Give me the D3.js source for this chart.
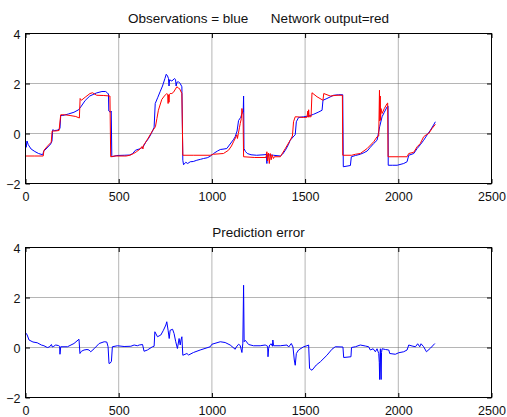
<!DOCTYPE html>
<html><head><meta charset="utf-8">
<script src="https://cdn.jsdelivr.net/npm/d3@7"></script>
<style>
body{margin:0;background:#fff}
svg{display:block}
text{font-family:"Liberation Sans",Arial,Helvetica,sans-serif;fill:#111}
</style>
</head><body>
<svg id="chart" width="507" height="417"></svg>
<script>
// ---- tick labels ----
const xTicks = [0, 500, 1000, 1500, 2000, 2500];
const yTicks = [-2, 0, 2, 4];
const titleTop = "Observations = blue      Network output=red";
const titleBottom = "Prediction error";

// ---- observations (blue), [time, value] ----
const observations = [[0,-0.3],[4,-0.55],[8,-0.3],[15,-0.45],[30,-0.62],[50,-0.72],[70,-0.8],[92,-0.85],[98,-0.7],[110,-0.62],[125,-0.5],[135,-0.42],[142,-0.3],[146,0.15],[155,0.12],[170,0.13],[185,0.2],[189,0.72],[200,0.72],[230,0.78],[260,0.85],[285,0.95],[300,1.1],[320,1.32],[345,1.5],[380,1.62],[410,1.68],[430,1.68],[440,1.62],[445,1.58],[447,0.9],[455,0.85],[460,0.9],[463,-0.93],[490,-0.88],[530,-0.87],[560,-0.86],[575,-0.8],[590,-0.67],[610,-0.62],[630,-0.55],[645,-0.35],[660,-0.2],[675,0.0],[686,0.18],[690,0.25],[696,1.2],[710,1.45],[722,1.67],[735,1.9],[748,2.2],[755,2.37],[762,2.3],[767,2.2],[770,1.9],[773,2.15],[785,2.1],[800,2.2],[805,2.15],[808,1.9],[812,2.05],[821,2.07],[830,2.0],[839,1.87],[844,-1.07],[848,-1.25],[860,-1.15],[870,-1.2],[884,-1.13],[900,-1.12],[919,-1.07],[940,-1.03],[955,-1.0],[975,-0.97],[991,-0.91],[1009,-0.8],[1030,-0.7],[1045,-0.64],[1065,-0.62],[1080,-0.6],[1098,-0.42],[1115,-0.25],[1125,-0.13],[1135,0.1],[1143,0.52],[1155,0.65],[1161,0.8],[1168,0.85],[1170,1.5],[1171,0.9],[1172,-0.6],[1180,-0.72],[1190,-0.8],[1210,-0.85],[1240,-0.87],[1280,-0.85],[1293,-0.83],[1295,-1.2],[1297,-0.85],[1330,-0.87],[1367,-0.9],[1380,-0.82],[1394,-0.67],[1410,-0.45],[1420,-0.27],[1440,-0.1],[1447,-0.05],[1453,0.47],[1465,0.64],[1492,0.67],[1519,0.7],[1546,0.77],[1570,0.85],[1591,0.93],[1596,1.33],[1617,1.4],[1653,1.53],[1680,1.55],[1702,1.55],[1705,-1.33],[1743,-1.28],[1748,-0.93],[1770,-0.88],[1796,-0.83],[1815,-0.77],[1833,-0.7],[1850,-0.55],[1868,-0.4],[1886,-0.27],[1900,0.27],[1913,0.67],[1925,0.85],[1940,1.07],[1945,1.1],[1946,-1.27],[1970,-1.27],[1994,-1.27],[2029,-1.2],[2047,-1.13],[2056,-0.87],[2083,-0.8],[2101,-0.6],[2118,-0.45],[2136,-0.27],[2155,-0.05],[2172,0.13],[2186,0.3],[2199,0.47]];

// ---- network output (red), [time, value] ----
const networkOutput = [[0,-0.9],[50,-0.9],[95,-0.9],[99,-0.67],[122,-0.47],[138,-0.35],[143,0.1],[160,0.1],[180,0.12],[189,0.75],[210,0.75],[239,0.72],[270,0.68],[289,0.62],[293,1.4],[300,1.33],[320,1.45],[346,1.6],[360,1.63],[370,1.58],[382,1.53],[420,1.52],[453,1.5],[457,-0.93],[480,-0.9],[540,-0.9],[560,-0.87],[580,-0.8],[595,-0.73],[615,-0.62],[625,-0.52],[630,-0.62],[633,-0.47],[640,-0.4],[651,-0.27],[665,-0.1],[678,0.07],[697,0.27],[705,0.6],[713,0.93],[731,1.36],[745,1.5],[758,1.6],[763,1.55],[765,1.2],[767,1.55],[770,1.25],[772,1.55],[776,1.6],[785,1.6],[794,1.65],[812,1.87],[820,1.82],[826,1.8],[839,1.6],[844,-0.87],[900,-0.87],[991,-0.87],[1009,-0.83],[1062,-0.8],[1089,-0.67],[1105,-0.5],[1116,-0.33],[1130,-0.12],[1134,-0.05],[1137,-0.2],[1142,0.0],[1148,0.25],[1152,0.4],[1158,0.6],[1161,1.0],[1164,0.85],[1167,0.8],[1170,-0.93],[1230,-0.96],[1290,-0.96],[1295,-0.73],[1298,-1.1],[1303,-0.78],[1308,-1.2],[1313,-0.8],[1318,-1.05],[1323,-0.85],[1330,-1.0],[1335,-0.93],[1367,-0.93],[1394,-0.6],[1420,-0.27],[1432,-0.1],[1438,0.47],[1447,0.67],[1470,0.66],[1492,0.64],[1510,0.65],[1515,0.9],[1517,0.65],[1519,0.95],[1522,0.67],[1532,0.67],[1537,1.63],[1564,1.47],[1596,1.33],[1600,1.6],[1635,1.5],[1671,1.53],[1700,1.53],[1702,-0.87],[1750,-0.87],[1770,-0.83],[1796,-0.8],[1833,-0.6],[1868,-0.33],[1886,-0.13],[1895,-0.1],[1899,1.73],[1901,0.5],[1903,1.5],[1905,0.55],[1907,1.0],[1913,0.8],[1925,1.0],[1940,1.2],[1943,1.22],[1945,-0.93],[2000,-0.93],[2047,-0.93],[2056,-0.8],[2083,-0.75],[2101,-0.53],[2118,-0.4],[2136,-0.13],[2150,-0.05],[2163,0.0],[2181,0.2],[2199,0.37]];

// ---- prediction error (blue), [time, value] ----
const predictionError = [[0,0.6],[5,0.55],[9,0.5],[19,0.3],[40,0.22],[63,0.19],[85,0.1],[99,0.07],[117,0.0],[128,0.02],[139,0.12],[144,0.02],[152,0.05],[162,0.1],[176,0.08],[183,0.05],[185,-0.27],[189,0.03],[225,0.03],[260,0.16],[287,0.33],[292,-0.24],[300,-0.15],[314,-0.1],[330,-0.08],[341,-0.1],[350,-0.17],[368,-0.05],[395,0.16],[422,0.23],[436,0.22],[443,0.03],[448,-0.64],[455,-0.62],[461,-0.55],[466,0.03],[493,0.07],[529,0.04],[565,0.05],[583,0.1],[600,0.07],[610,0.1],[628,0.12],[636,-0.15],[654,-0.1],[681,0.03],[690,0.05],[694,0.63],[708,0.43],[726,0.5],[740,0.69],[753,0.9],[758,1.03],[765,0.69],[771,0.36],[776,0.69],[789,0.73],[797,0.56],[806,0.23],[815,-0.04],[824,0.36],[830,0.1],[834,0.3],[839,0.43],[844,-0.31],[866,-0.24],[875,-0.3],[901,-0.2],[937,-0.1],[991,0.03],[1000,0.13],[1045,0.23],[1071,0.2],[1098,0.1],[1125,-0.07],[1131,0.02],[1143,0.13],[1152,0.08],[1161,-0.2],[1166,0.17],[1170,2.49],[1173,0.23],[1179,0.29],[1197,0.12],[1223,0.07],[1259,0.07],[1286,0.1],[1299,0.05],[1301,-0.37],[1304,-0.05],[1310,0.1],[1318,0.15],[1325,0.05],[1327,0.3],[1331,0.07],[1367,0.07],[1403,0.1],[1412,0.02],[1426,0.16],[1435,0.02],[1442,-0.5],[1447,-0.71],[1453,-0.24],[1465,-0.1],[1492,0.03],[1510,0.07],[1519,0.1],[1524,-0.84],[1537,-0.91],[1560,-0.7],[1582,-0.57],[1617,-0.31],[1644,-0.07],[1662,0.03],[1703,0.02],[1707,-0.4],[1746,-0.37],[1749,0.0],[1770,0.03],[1796,0.1],[1823,0.06],[1841,0.03],[1850,-0.1],[1865,-0.05],[1877,-0.17],[1886,-0.05],[1895,-0.24],[1898,-0.6],[1900,-1.28],[1902,-0.3],[1904,-0.05],[1906,-0.9],[1908,-1.28],[1910,-0.2],[1913,-0.05],[1931,-0.08],[1949,-0.1],[1954,-0.24],[1984,-0.27],[2002,-0.21],[2029,-0.17],[2047,-0.1],[2056,0.1],[2074,0.06],[2092,0.03],[2104,0.15],[2115,0.03],[2122,0.15],[2136,0.03],[2151,-0.17],[2172,-0.03],[2196,0.16]];

const svg = d3.select("#chart");
const L = 25.5, R = 491.5, H = 150, TICK = 4.5;

function panel(top, title, titleBaseline, series) {
  const x = d3.scaleLinear().domain([0, 2500]).range([L, R]);
  const y = d3.scaleLinear().domain([-2, 4]).range([top + H, top]);
  const g = svg.append("g");

  // grid
  g.append("g").selectAll("line").data(xTicks.slice(1, -1)).join("line")
    .attr("x1", d => x(d)).attr("x2", d => x(d))
    .attr("y1", y(4)).attr("y2", y(-2))
    .attr("stroke", "#6a6a6a").attr("stroke-width", 1).attr("stroke-dasharray", "1,1");
  g.append("g").selectAll("line").data(yTicks.slice(1, -1)).join("line")
    .attr("x1", L).attr("x2", R)
    .attr("y1", d => y(d)).attr("y2", d => y(d))
    .attr("stroke", "#6a6a6a").attr("stroke-width", 1).attr("stroke-dasharray", "1,1");

  // data lines
  const line = d3.line().x(d => x(d[0])).y(d => y(d[1]));
  series.forEach(s => {
    g.append("path").datum(s.data)
      .attr("d", line).attr("fill", "none")
      .attr("stroke", s.color).attr("stroke-width", 1)
      .attr("stroke-linejoin", "round");
  });

  // axes (ticks inward on all four sides)
  const styleAxis = sel => {
    sel.select(".domain").remove();
    sel.selectAll(".tick line").attr("stroke", "#000");
    sel.selectAll("text").style("font-size", "12.5px").attr("fill", "#111");
  };
  g.append("g").attr("transform", `translate(0,${y(-2)})`)
    .call(d3.axisBottom(x).tickValues(xTicks).tickFormat(d3.format("d"))
      .tickSizeInner(-TICK).tickSizeOuter(0).tickPadding(9))
    .call(styleAxis);
  g.append("g").attr("transform", `translate(0,${y(4)})`)
    .call(d3.axisTop(x).tickValues(xTicks).tickFormat("")
      .tickSizeInner(-TICK).tickSizeOuter(0))
    .call(styleAxis);
  g.append("g").attr("transform", `translate(${L},0)`)
    .call(d3.axisLeft(y).tickValues(yTicks).tickFormat(d3.format("d"))
      .tickSizeInner(-TICK).tickSizeOuter(0).tickPadding(5))
    .call(styleAxis)
    .selectAll("text").attr("dy", "0.4em");
  g.append("g").attr("transform", `translate(${R},0)`)
    .call(d3.axisRight(y).tickValues(yTicks).tickFormat("")
      .tickSizeInner(-TICK).tickSizeOuter(0))
    .call(styleAxis);

  // box
  g.append("rect").attr("x", L).attr("y", y(4))
    .attr("width", R - L).attr("height", y(-2) - y(4))
    .attr("fill", "none").attr("stroke", "#000").attr("stroke-width", 1);

  // title
  g.append("text").attr("x", (L + R) / 2).attr("y", titleBaseline)
    .attr("text-anchor", "middle").style("font-size", "13.5px")
    .style("white-space", "pre").text(title);
}

panel(33.5, titleTop, 22.5, [
  { data: observations, color: "#0000ff" },
  { data: networkOutput, color: "#ff0000" }
]);
panel(247.5, titleBottom, 237, [
  { data: predictionError, color: "#0000ff" }
]);
</script>
</body></html>
